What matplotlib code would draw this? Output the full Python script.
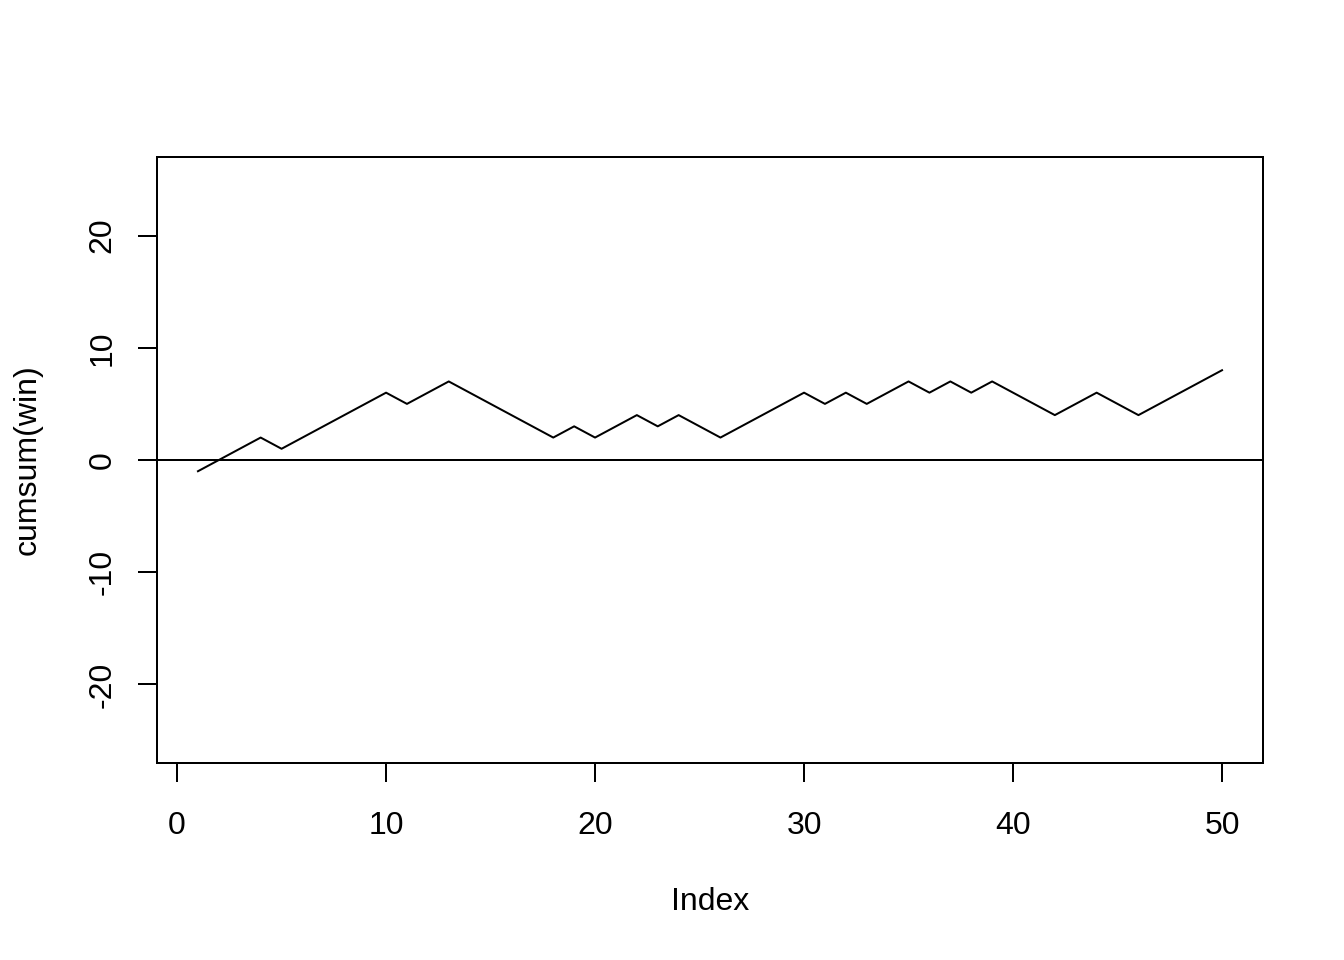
import matplotlib
matplotlib.use("Agg")
from matplotlib import pyplot as plt

plt.rcParams['font.family'] = ['Liberation Sans', 'DejaVu Sans']
plt.rcParams['font.size'] = 12

# cumulative wins, index 1..50
index = list(range(1, 51))
cum_win = [-1, 0, 1, 2, 1, 2, 3, 4, 5, 6,
           5, 6, 7, 6, 5, 4, 3, 2, 3, 2,
           3, 4, 3, 4, 3, 2, 3, 4, 5, 6,
           5, 6, 5, 6, 7, 6, 7, 6, 7, 6,
           5, 4, 5, 6, 5, 4, 5, 6, 7, 8]
x_ticks = [0, 10, 20, 30, 40, 50]
y_ticks = [-20, -10, 0, 10, 20]

fig = plt.figure(figsize=(7, 5), dpi=192)
ax = fig.add_axes([157 / 1344, 1 - 763 / 960, 1106 / 1344, 606 / 960])

ax.plot(index, cum_win, color='black', lw=0.75)
ax.axhline(0, color='black', lw=0.75)

ax.set_xlim(-0.96, 51.96)
ax.set_ylim(-27, 27)
ax.set_xticks(x_ticks)
ax.set_yticks(y_ticks)
ax.set_yticklabels([str(v) for v in y_ticks], rotation=90, va='center')

for s in ax.spines.values():
    s.set_linewidth(0.75)
ax.tick_params(direction='out', length=7.2, width=0.75, labelsize=12)
ax.tick_params(axis='x', pad=10.8)
ax.tick_params(axis='y', pad=7.5)

ax.set_xlabel('Index', va='center')
ax.xaxis.set_label_coords(0.5, (763 - 902) / 606)
ax.set_ylabel('cumsum(win)', va='center')
ax.yaxis.set_label_coords((28 - 157) / 1106, 0.5)

fig.savefig('out.png', dpi=192)
